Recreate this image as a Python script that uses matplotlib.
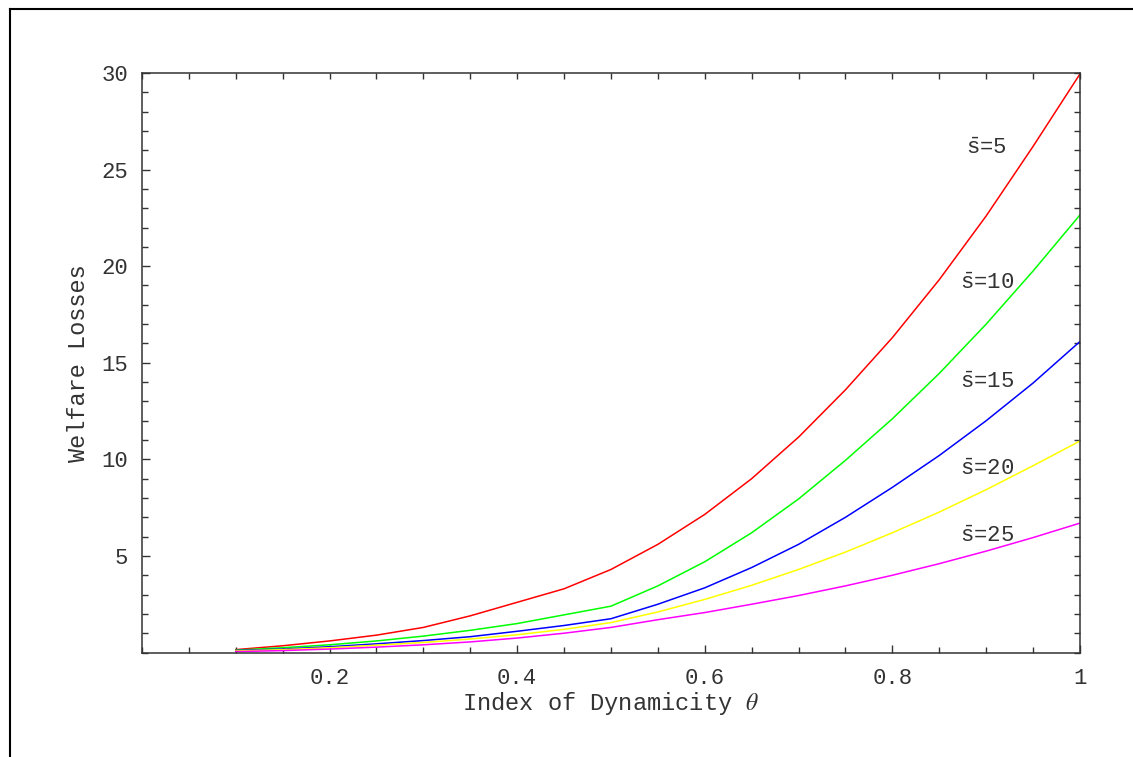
import numpy as np
import matplotlib
matplotlib.use("Agg")
import matplotlib.pyplot as plt
from matplotlib.ticker import MultipleLocator, FixedLocator, NullFormatter

plt.rcParams['font.family'] = ['Liberation Mono', 'DejaVu Sans']
plt.rcParams['font.size'] = 16
plt.rcParams['mathtext.fontset'] = 'custom'
plt.rcParams['mathtext.rm'] = 'Liberation Mono'
plt.rcParams['mathtext.it'] = 'STIXGeneral:italic'
plt.rcParams['mathtext.fallback'] = 'stix'

# Index of dynamicity theta
theta = [0.10, 0.15, 0.20, 0.25, 0.30, 0.35, 0.40, 0.45, 0.50, 0.55,
         0.60, 0.65, 0.70, 0.75, 0.80, 0.85, 0.90, 0.95, 1.00]

# Welfare losses for each s-bar value
loss_s5 = [0.15, 0.35, 0.60, 0.90, 1.30, 1.90, 2.60, 3.30, 4.30, 5.60,
           7.15, 9.00, 11.15, 13.6, 16.3, 19.3, 22.6, 26.2, 29.95]
loss_s10 = [0.12, 0.25, 0.40, 0.60, 0.85, 1.15, 1.50, 1.95, 2.40, 3.45,
            4.70, 6.20, 7.95, 9.95, 12.1, 14.45, 17.0, 19.75, 22.65]
loss_s15 = [0.10, 0.18, 0.30, 0.45, 0.62, 0.82, 1.10, 1.40, 1.75, 2.50,
            3.35, 4.40, 5.60, 7.00, 8.55, 10.2, 12.0, 13.95, 16.1]
loss_s20 = [0.08, 0.15, 0.25, 0.38, 0.52, 0.70, 0.92, 1.20, 1.55, 2.10,
            2.75, 3.48, 4.30, 5.20, 6.20, 7.27, 8.43, 9.67, 10.95]
loss_s25 = [0.05, 0.10, 0.18, 0.28, 0.40, 0.55, 0.75, 1.00, 1.30, 1.70,
            2.07, 2.50, 2.95, 3.45, 4.00, 4.60, 5.25, 5.95, 6.70]

series = [loss_s5, loss_s10, loss_s15, loss_s20, loss_s25]
s_bar = [5, 10, 15, 20, 25]
colors = ['#ff0000', '#00ff00', '#0000ff', '#ffff00', '#ff00ff']
label_x = [0.878, 0.872, 0.872, 0.872, 0.872]
label_y = [26.1, 19.1, 14.0, 9.5, 6.0]

ink = '#333333'

fig = plt.figure(figsize=(11.33, 7.57), dpi=100)
ax = fig.add_axes([0.1253, 0.138, 0.8279, 0.7656])

for vals, c in zip(series, colors):
    ax.plot(theta, vals, color=c, linewidth=1.1)

for s, x, y in zip(s_bar, label_x, label_y):
    ax.text(x, y, r'$\bar{\mathrm{s}}$' + f'={s}', ha='left', va='center',
            color=ink, fontsize=16)

ax.set_xlim(0, 1)
ax.set_ylim(0, 30)

ax.xaxis.set_major_locator(FixedLocator([0.2, 0.4, 0.6, 0.8, 1.0]))
ax.xaxis.set_minor_locator(MultipleLocator(0.05))
ax.yaxis.set_major_locator(FixedLocator([5, 10, 15, 20, 25, 30]))
ax.yaxis.set_minor_locator(MultipleLocator(1))
ax.set_xticklabels(['0.2', '0.4', '0.6', '0.8', '1'])
ax.set_yticklabels(['5', '10', '15', '20', '25', '30'])

ax.tick_params(which='major', direction='in', length=6, width=1, color=ink,
               labelcolor=ink, labelsize=16)
ax.tick_params(which='minor', direction='in', length=4, width=1, color=ink)
ax.tick_params(axis='x', which='major', pad=11)
ax.tick_params(axis='y', which='major', pad=10)

for sp in ax.spines.values():
    sp.set_color(ink)
    sp.set_linewidth(1.1)

# mirror ticks on top and right, all short
top = ax.secondary_xaxis('top')
top.xaxis.set_major_locator(MultipleLocator(0.05))
top.xaxis.set_major_formatter(NullFormatter())
top.tick_params(direction='in', length=4, width=1, color=ink)
top.spines['top'].set_visible(False)
right = ax.secondary_yaxis('right')
right.yaxis.set_major_locator(MultipleLocator(1))
right.yaxis.set_major_formatter(NullFormatter())
right.tick_params(direction='in', length=4, width=1, color=ink)
right.spines['right'].set_visible(False)

ax.set_xlabel(r'Index of Dynamicity $\mathit{\theta}$', color=ink, fontsize=17, labelpad=1)
ax.set_ylabel('Welfare Losses', color=ink, fontsize=17, labelpad=8)

# frame lines on the left and top of the figure
fig.add_artist(plt.Line2D([10 / 1133, 10 / 1133], [0, 1 - 9 / 757], color='black',
                          linewidth=1.5, transform=fig.transFigure))
fig.add_artist(plt.Line2D([10 / 1133, 1], [1 - 9 / 757, 1 - 9 / 757], color='black',
                          linewidth=1.5, transform=fig.transFigure))

fig.savefig('out.png', dpi=100)
